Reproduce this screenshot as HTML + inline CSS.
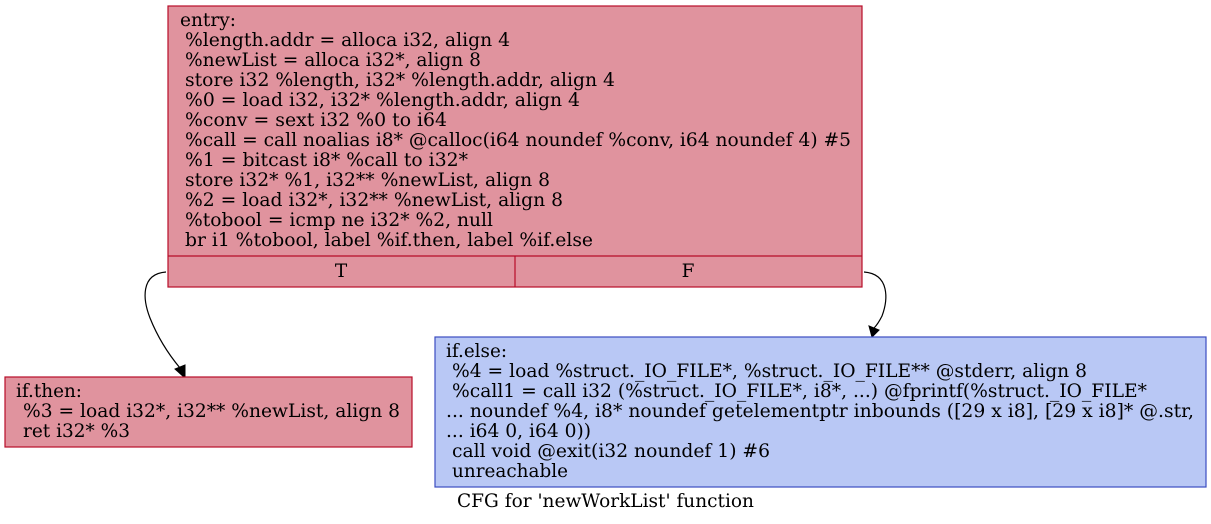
<!DOCTYPE html>
<html><head><meta charset="utf-8"><style>
html,body{margin:0;padding:0;background:#fff;}
svg{display:block;}
text{font-family:"DejaVu Serif",serif;font-size:18.5px;fill:#000;}
</style></head><body>
<svg width="1211" height="524" viewBox="0 0 1211 524" xmlns="http://www.w3.org/2000/svg">
<rect x="168" y="6" width="694" height="281" fill="#e0939e" stroke="#b70d28" stroke-width="1.2"/>
<line x1="168" y1="256" x2="862" y2="256" stroke="#b70d28" stroke-width="1.2"/>
<line x1="515" y1="256" x2="515" y2="287" stroke="#b70d28" stroke-width="1.2"/>
<text x="180" y="26" textLength="56" lengthAdjust="spacingAndGlyphs">entry:</text>
<text x="185" y="46" textLength="325" lengthAdjust="spacingAndGlyphs">%length.addr = alloca i32, align 4</text>
<text x="185" y="66" textLength="296" lengthAdjust="spacingAndGlyphs">%newList = alloca i32*, align 8</text>
<text x="185" y="86" textLength="430" lengthAdjust="spacingAndGlyphs">store i32 %length, i32* %length.addr, align 4</text>
<text x="185" y="106" textLength="395" lengthAdjust="spacingAndGlyphs">%0 = load i32, i32* %length.addr, align 4</text>
<text x="185" y="126" textLength="262" lengthAdjust="spacingAndGlyphs">%conv = sext i32 %0 to i64</text>
<text x="185" y="146" textLength="666" lengthAdjust="spacingAndGlyphs">%call = call noalias i8* @calloc(i64 noundef %conv, i64 noundef 4) #5</text>
<text x="185" y="166" textLength="283" lengthAdjust="spacingAndGlyphs">%1 = bitcast i8* %call to i32*</text>
<text x="185" y="186" textLength="365" lengthAdjust="spacingAndGlyphs">store i32* %1, i32** %newList, align 8</text>
<text x="185" y="206" textLength="378" lengthAdjust="spacingAndGlyphs">%2 = load i32*, i32** %newList, align 8</text>
<text x="185" y="226" textLength="308" lengthAdjust="spacingAndGlyphs">%tobool = icmp ne i32* %2, null</text>
<text x="185" y="246" textLength="408" lengthAdjust="spacingAndGlyphs">br i1 %tobool, label %if.then, label %if.else</text>
<text x="341" y="277" text-anchor="middle">T</text>
<text x="688" y="277" text-anchor="middle">F</text>

<path d="M166,272 C140,274 143,300 150,318 C158,338 170,356 180,368" fill="none" stroke="#000" stroke-width="1.2"/>
<polygon points="175,369 185,378 185,365" fill="#000" stroke="#000"/>
<path d="M864,272 C890,274 888,300 882,316 C879,322 876,326 874,328" fill="none" stroke="#000" stroke-width="1.2"/>
<polygon points="869,326 872,337 879,330" fill="#000" stroke="#000"/>

<rect x="5" y="377" width="407" height="70" fill="#e0939e" stroke="#b70d28" stroke-width="1.2"/>
<text x="16" y="397" textLength="66" lengthAdjust="spacingAndGlyphs">if.then:</text>
<text x="23" y="417" textLength="377" lengthAdjust="spacingAndGlyphs">%3 = load i32*, i32** %newList, align 8</text>
<text x="23" y="437" textLength="107" lengthAdjust="spacingAndGlyphs">ret i32* %3</text>

<rect x="435" y="337" width="771" height="150" fill="#b9c8f5" stroke="#3b4cc0" stroke-width="1.2"/>
<text x="446" y="357" textLength="61" lengthAdjust="spacingAndGlyphs">if.else:</text>
<text x="452" y="377" textLength="635" lengthAdjust="spacingAndGlyphs">%4 = load %struct._IO_FILE*, %struct._IO_FILE** @stderr, align 8</text>
<text x="452" y="397" textLength="695" lengthAdjust="spacingAndGlyphs">%call1 = call i32 (%struct._IO_FILE*, i8*, ...) @fprintf(%struct._IO_FILE*</text>
<text x="446" y="417" textLength="748" lengthAdjust="spacingAndGlyphs">... noundef %4, i8* noundef getelementptr inbounds ([29 x i8], [29 x i8]* @.str,</text>
<text x="446" y="437" textLength="145" lengthAdjust="spacingAndGlyphs">... i64 0, i64 0))</text>
<text x="452" y="457" textLength="318" lengthAdjust="spacingAndGlyphs">call void @exit(i32 noundef 1) #6</text>
<text x="452" y="477" textLength="116" lengthAdjust="spacingAndGlyphs">unreachable</text>

<text x="457" y="507" textLength="297" lengthAdjust="spacingAndGlyphs">CFG for 'newWorkList' function</text>
</svg>
</body></html>
